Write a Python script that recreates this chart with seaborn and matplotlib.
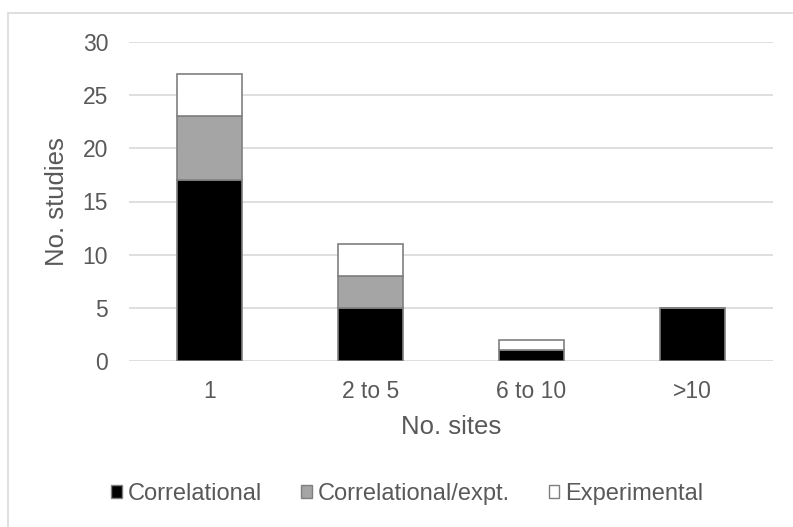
import matplotlib
matplotlib.use("Agg")
import matplotlib.pyplot as plt
from matplotlib.patches import Patch, Rectangle
import seaborn as sns
import numpy as np

categories = ["1", "2 to 5", "6 to 10", ">10"]
correlational = [17, 5, 1, 5]
correlational_expt = [6, 3, 0, 0]
experimental = [4, 3, 1, 0]
series_names = ["Correlational", "Correlational/expt.", "Experimental"]
series_colors = ["#000000", "#a5a5a5", "#ffffff"]
yticks = [0, 5, 10, 15, 20, 25, 30]

sns.set_theme(style="white")
plt.rcParams["font.family"] = ["Liberation Sans", "DejaVu Sans"]
text_color = "#595959"

W, H = 793, 527
fig = plt.figure(figsize=(W / 100, H / 100), dpi=100)
ax = fig.add_axes([129 / W, 1 - 361 / H, 644 / W, 319 / H])

# outer chart-area border
fig.patches.append(Rectangle((8 / W, -0.05), 1.0, 1 - 13 / H + 0.05,
                             transform=fig.transFigure, fill=False,
                             edgecolor="#d9d9d9", linewidth=1.2))

series = [correlational, correlational_expt, experimental]
bottom = np.zeros(len(categories))
for name, vals, col in zip(series_names, series, series_colors):
    sns.barplot(x=categories, y=vals, bottom=bottom, color=col, ax=ax,
                edgecolor="#7f7f7f", linewidth=1.2, width=0.4,
                saturation=1, zorder=3)
    bottom = bottom + np.array(vals)

ax.set_ylim(0, 30)
ax.set_xlim(-0.5, 3.5)
ax.set_yticks(yticks)
ax.yaxis.grid(True, color="#d9d9d9", linewidth=1.2, zorder=0)
ax.set_axisbelow(True)
for s in ax.spines.values():
    s.set_visible(False)
ax.tick_params(axis="both", length=0, labelsize=16.5, colors=text_color)
ax.tick_params(axis="x", pad=14)
ax.tick_params(axis="y", pad=15)
ax.set_xlabel("No. sites", fontsize=18.5, color=text_color)
ax.set_ylabel("No. studies", fontsize=18.5, color=text_color)
ax.xaxis.label.set_va("center")
ax.yaxis.label.set_va("center")
ax.yaxis.label.set_ha("center")
ax.xaxis.set_label_coords(0.5, (361 - 427) / 319)
ax.yaxis.set_label_coords((57 - 129) / 644, 0.5)

handles = [Patch(facecolor=c, edgecolor="#7f7f7f", linewidth=1.0) for c in series_colors]
leg = fig.legend(handles, series_names, loc="center",
                 bbox_to_anchor=(0.5 + 11 / W, 1 - 494 / H),
                 ncol=3, frameon=False, fontsize=17, handlelength=0.45, handleheight=0.45,
                 handletextpad=0.25, columnspacing=1.65)
for t in leg.get_texts():
    t.set_color(text_color)

fig.savefig("out.png", dpi=100)
